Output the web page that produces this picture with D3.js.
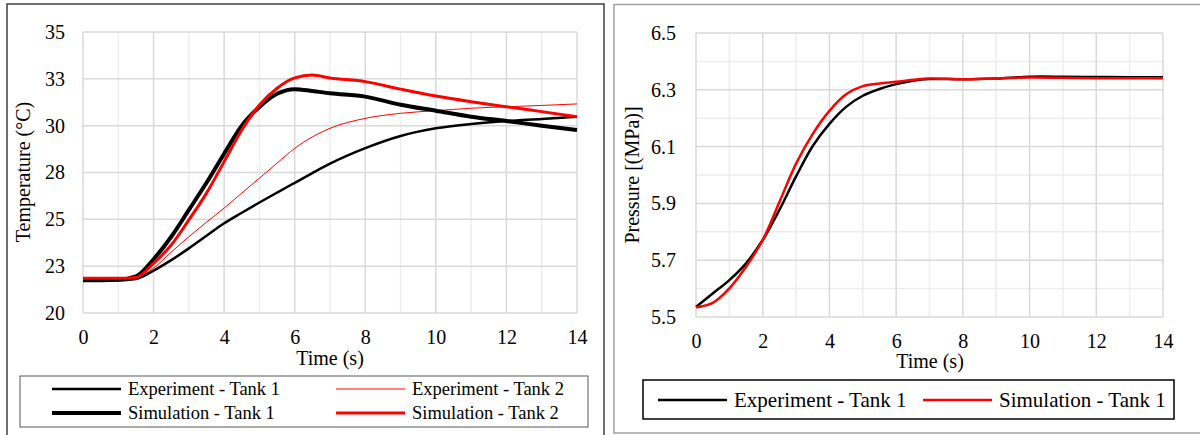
<!DOCTYPE html>
<html>
<head>
<meta charset="utf-8">
<script src="https://cdn.jsdelivr.net/npm/d3@7/dist/d3.min.js"></script>
<style>
  html, body { margin: 0; padding: 0; background: #fff; }
  svg text { font-family: "Liberation Serif", "Times New Roman", serif; fill: #000; }
</style>
</head>
<body>
<svg id="chart" width="1200" height="435"></svg>
<script>
// ---- Temperature panel data ----
const tempTime = [0, 0.5, 1, 1.5, 2, 2.5, 3, 3.5, 4, 4.5, 5, 5.5, 6, 6.5, 7, 8, 9, 10, 11, 12, 13, 14];
const expTank1 = [21.75, 21.75, 21.75, 21.82, 22.26, 22.82, 23.45, 24.12, 24.79, 25.35, 25.9, 26.43, 26.95, 27.47, 27.97, 28.8, 29.45, 29.86, 30.09, 30.25, 30.36, 30.48];
const expTank2 = [21.85, 21.85, 21.85, 21.9, 22.39, 23.25, 24.07, 24.85, 25.6, 26.4, 27.2, 28.0, 28.79, 29.4, 29.86, 30.39, 30.66, 30.8, 30.93, 31.01, 31.08, 31.16];
const simTank1 = [21.75, 21.75, 21.77, 21.95, 22.87, 24.07, 25.5, 26.95, 28.5, 30.0, 31.0, 31.7, 31.95, 31.85, 31.73, 31.55, 31.12, 30.8, 30.48, 30.25, 30.0, 29.77];
const simTank2 = [21.85, 21.85, 21.85, 21.9, 22.65, 23.63, 24.97, 26.4, 28.08, 29.77, 31.1, 32.0, 32.55, 32.7, 32.55, 32.35, 31.95, 31.58, 31.28, 31.01, 30.75, 30.48];
const tempYTicks = [20, 22.5, 25, 27.5, 30, 32.5, 35];
const tempXTicks = [0, 2, 4, 6, 8, 10, 12, 14];

// ---- Pressure panel data ----
const presTime = [0, 0.5, 1, 1.5, 2, 2.5, 3, 3.5, 4, 4.5, 5, 5.5, 6, 6.5, 7, 8, 9, 10, 11, 12, 13, 14];
const presExp = [5.535, 5.583, 5.63, 5.689, 5.771, 5.877, 5.995, 6.102, 6.18, 6.24, 6.279, 6.303, 6.32, 6.332, 6.338, 6.337, 6.34, 6.346, 6.346, 6.345, 6.344, 6.344];
const presSim = [5.534, 5.55, 5.601, 5.677, 5.771, 5.905, 6.04, 6.145, 6.226, 6.284, 6.313, 6.322, 6.328, 6.335, 6.34, 6.337, 6.34, 6.343, 6.342, 6.341, 6.341, 6.341];
const presYTicks = [5.5, 5.7, 5.9, 6.1, 6.3, 6.5];
const presXTicks = [0, 2, 4, 6, 8, 10, 12, 14];

const svg = d3.select("#chart");
const FONT = 20;

// Outer frames of the two panels
svg.append("rect").attr("x", 7).attr("y", 4).attr("width", 597).attr("height", 440)
  .attr("fill", "none").attr("stroke", "#404040").attr("stroke-width", 1.5);
svg.append("rect").attr("x", 614).attr("y", 4.5).attr("width", 600).attr("height", 428.5)
  .attr("fill", "none").attr("stroke", "#a0a0a0").attr("stroke-width", 1.5);

function grid(g, x, y, xMinor, xMajor, yMinor, yMajor) {
  const [x0, x1] = x.range();
  const [y0, y1] = y.range();
  g.append("g").selectAll("line").data(xMinor).join("line")
    .attr("x1", d => x(d)).attr("x2", d => x(d)).attr("y1", y0).attr("y2", y1)
    .attr("stroke", "#ededed").attr("stroke-width", 1.5);
  g.append("g").selectAll("line").data(yMinor).join("line")
    .attr("y1", d => y(d)).attr("y2", d => y(d)).attr("x1", x0).attr("x2", x1)
    .attr("stroke", "#ededed").attr("stroke-width", 1.5);
  g.append("g").selectAll("line").data(xMajor).join("line")
    .attr("x1", d => x(d)).attr("x2", d => x(d)).attr("y1", y0).attr("y2", y1)
    .attr("stroke", "#d9d9d9").attr("stroke-width", 1.5);
  g.append("g").selectAll("line").data(yMajor).join("line")
    .attr("y1", d => y(d)).attr("y2", d => y(d)).attr("x1", x0).attr("x2", x1)
    .attr("stroke", "#d9d9d9").attr("stroke-width", 1.5);
}

function axes(g, x, y, xTicks, yTicks, yFmt, xLabelY, yLabelX) {
  const ax = d3.axisBottom(x).tickValues(xTicks).tickSize(0).tickFormat(d3.format("d"));
  const xa = g.append("g").attr("transform", `translate(0,${xLabelY})`).call(ax);
  xa.attr("font-family", null);
  xa.select(".domain").remove();
  xa.selectAll("text").attr("font-size", FONT).attr("dy", "0.32em").attr("y", 0)
    .style("font-family", '"Liberation Serif", serif');
  const ay = d3.axisLeft(y).tickValues(yTicks).tickSize(0).tickFormat(yFmt);
  const ya = g.append("g").attr("transform", `translate(${yLabelX},0)`).call(ay);
  ya.attr("font-family", null);
  ya.select(".domain").remove();
  ya.selectAll("text").attr("font-size", FONT).attr("x", 0).attr("dy", "0.32em")
    .style("font-family", '"Liberation Serif", serif');
}

const smooth = d3.curveMonotoneX;

// ---------- Temperature panel ----------
const xT = d3.scaleLinear().domain([0, 14]).range([83, 577]);
const yT = d3.scaleLinear().domain([20, 35]).range([313, 32]);
const gT = svg.append("g");
grid(gT, xT, yT, d3.range(1, 14, 2), d3.range(0, 15, 2), [], tempYTicks);
axes(gT, xT, yT, tempXTicks, tempYTicks, d3.format(".0f"), 338, 65);

gT.append("text").attr("x", 330).attr("y", 365).attr("text-anchor", "middle")
  .attr("font-size", FONT).text("Time (s)");
gT.append("text").attr("transform", "translate(30,172) rotate(-90)").attr("text-anchor", "middle")
  .attr("font-size", FONT).text("Temperature (°C)");

const tempSeries = [
  { name: "Experiment - Tank 1", values: expTank1, color: "#000000", width: 2.5 },
  { name: "Experiment - Tank 2", values: expTank2, color: "#ff0000", width: 1 },
  { name: "Simulation - Tank 1", values: simTank1, color: "#000000", width: 4 },
  { name: "Simulation - Tank 2", values: simTank2, color: "#ff0000", width: 3 }
];
const lineT = d3.line().curve(smooth).x((d, i) => xT(tempTime[i])).y(d => yT(d));
// thin experiment lines first, simulations on top
[tempSeries[1], tempSeries[0], tempSeries[2], tempSeries[3]].forEach(s => {
  gT.append("path").attr("d", lineT(s.values)).attr("fill", "none")
    .attr("stroke", s.color).attr("stroke-width", s.width).attr("stroke-linejoin", "round");
});

// Temperature legend
const legT = svg.append("g");
legT.append("rect").attr("x", 20).attr("y", 376).attr("width", 568).attr("height", 51)
  .attr("fill", "#fff").attr("stroke", "#595959").attr("stroke-width", 1);
const legTPos = [
  { s: tempSeries[0], x: 52, y: 389 },
  { s: tempSeries[1], x: 336, y: 389 },
  { s: tempSeries[2], x: 52, y: 413 },
  { s: tempSeries[3], x: 336, y: 413 }
];
legTPos.forEach(p => {
  legT.append("line").attr("x1", p.x).attr("x2", p.x + 69).attr("y1", p.y).attr("y2", p.y)
    .attr("stroke", p.s.color).attr("stroke-width", p.s.width);
  legT.append("text").attr("x", p.x + 76).attr("y", p.y).attr("dy", "0.33em")
    .attr("font-size", 18.5).text(p.s.name);
});

// ---------- Pressure panel ----------
const xP = d3.scaleLinear().domain([0, 14]).range([696, 1163]);
const yP = d3.scaleLinear().domain([5.5, 6.5]).range([317, 33]);
const gP = svg.append("g");
grid(gP, xP, yP, d3.range(1, 14, 2), d3.range(0, 15, 2),
  [5.6, 5.8, 6.0, 6.2, 6.4], presYTicks);
axes(gP, xP, yP, presXTicks, presYTicks, d3.format(".1f"), 342, 676);

gP.append("text").attr("x", 930).attr("y", 368).attr("text-anchor", "middle")
  .attr("font-size", FONT).text("Time (s)");
gP.append("text").attr("transform", "translate(639,175) rotate(-90)").attr("text-anchor", "middle")
  .attr("font-size", FONT).text("Pressure [(MPa)]");

const presSeries = [
  { name: "Experiment - Tank 1", values: presExp, color: "#000000", width: 2.5 },
  { name: "Simulation - Tank 1", values: presSim, color: "#ff0000", width: 2.5 }
];
const lineP = d3.line().curve(d3.curveCatmullRom.alpha(0.5)).x((d, i) => xP(presTime[i])).y(d => yP(d));
presSeries.forEach(s => {
  gP.append("path").attr("d", lineP(s.values)).attr("fill", "none")
    .attr("stroke", s.color).attr("stroke-width", s.width).attr("stroke-linejoin", "round");
});

// Pressure legend
const legP = svg.append("g");
legP.append("rect").attr("x", 643).attr("y", 380).attr("width", 531).attr("height", 39)
  .attr("fill", "#fff").attr("stroke", "#000").attr("stroke-width", 1.5);
[{ s: presSeries[0], x: 658 }, { s: presSeries[1], x: 923 }].forEach(p => {
  legP.append("line").attr("x1", p.x).attr("x2", p.x + 69).attr("y1", 400).attr("y2", 400)
    .attr("stroke", p.s.color).attr("stroke-width", p.s.width);
  legP.append("text").attr("x", p.x + 76).attr("y", 400).attr("dy", "0.33em")
    .attr("font-size", 21).text(p.s.name);
});
</script>
</body>
</html>
